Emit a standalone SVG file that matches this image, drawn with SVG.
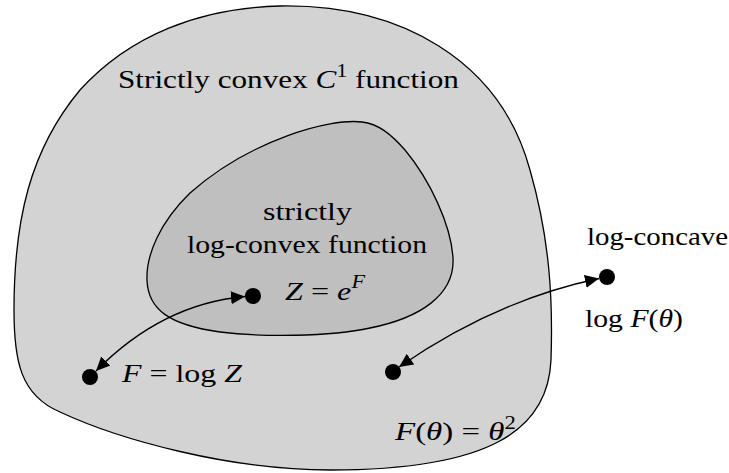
<svg xmlns="http://www.w3.org/2000/svg" width="729" height="473" viewBox="0 0 729 473">
<style>
  .region { stroke: #000; stroke-width: 1.3; }
  .t { font-family: "Liberation Serif", "DejaVu Serif", serif; font-size: 26px; fill: #000; }
  .m { font-style: italic; }
  .dot { fill: #000; }
  .conn { fill: none; stroke: #000; stroke-width: 1.3; marker-start: url(#ah); marker-end: url(#ah); }
</style>
<defs>
  <marker id="ah" markerUnits="userSpaceOnUse" markerWidth="16" markerHeight="16" viewBox="0 -8 16 16" refX="14" refY="0" orient="auto-start-reverse">
    <path d="M0,-6.5 L14,0 L0,6.5 Z" fill="#000"/>
  </marker>
</defs>
<rect width="729" height="473" fill="#fff"/>

<g id="outer-region">
  <path class="region" fill="#d3d3d3" d="M 280 6 C 400 4, 500 60, 530 170 C 550 240, 553 300, 551 360 C 548 430, 490 470, 330 470 C 230 470, 120 440, 60 412 C 20 395, 14 360, 14 310 C 14 220, 30 150, 80 90 C 130 35, 200 8, 280 6 Z"/>
  <text class="t" x="118" y="88" textLength="341" lengthAdjust="spacingAndGlyphs">Strictly convex <tspan class="m">C</tspan><tspan font-size="18" dy="-11">1</tspan><tspan dy="11"> function</tspan></text>
</g>

<g id="inner-region">
  <path class="region" fill="#bfbfbf" d="M 362 122 C 330 118, 250 140, 190 193 C 160 222, 146 255, 147 280 C 148 310, 170 325, 220 332 C 260 337, 330 337, 370 328 C 420 318, 455 295, 453 258 C 451 225, 430 180, 405 150 C 390 133, 378 124, 362 122 Z"/>
  <text class="t" x="263" y="220" textLength="89" lengthAdjust="spacingAndGlyphs">strictly</text>
  <text class="t" x="187" y="253" textLength="240" lengthAdjust="spacingAndGlyphs">log-convex function</text>
</g>

<g id="node-Z">
  <circle class="dot" cx="253" cy="296" r="8"/>
  <text class="t" x="285" y="300" textLength="80" lengthAdjust="spacingAndGlyphs"><tspan class="m">Z</tspan> = <tspan class="m">e</tspan><tspan class="m" font-size="18" dy="-12">F</tspan></text>
</g>

<g id="node-F">
  <circle class="dot" cx="90" cy="377" r="8"/>
  <text class="t" x="122" y="382" textLength="120" lengthAdjust="spacingAndGlyphs"><tspan class="m">F</tspan> = log <tspan class="m">Z</tspan></text>
</g>

<g id="node-theta">
  <circle class="dot" cx="393" cy="372" r="8"/>
  <text class="t" x="395" y="440" textLength="121" lengthAdjust="spacingAndGlyphs"><tspan class="m">F</tspan>(<tspan class="m">θ</tspan>) = <tspan class="m">θ</tspan><tspan font-size="18" dy="-11">2</tspan></text>
</g>

<g id="node-logF">
  <circle class="dot" cx="607" cy="277" r="8"/>
  <text class="t" x="587" y="245" textLength="141" lengthAdjust="spacingAndGlyphs">log-concave</text>
  <text class="t" x="585" y="327" textLength="98" lengthAdjust="spacingAndGlyphs">log <tspan class="m">F</tspan>(<tspan class="m">θ</tspan>)</text>
</g>

<g id="connectors">
  <path class="conn" d="M 96 371 Q 162 304, 245 296.5"/>
  <path class="conn" d="M 599 278.5 Q 496 300, 399 367"/>
</g>
</svg>
